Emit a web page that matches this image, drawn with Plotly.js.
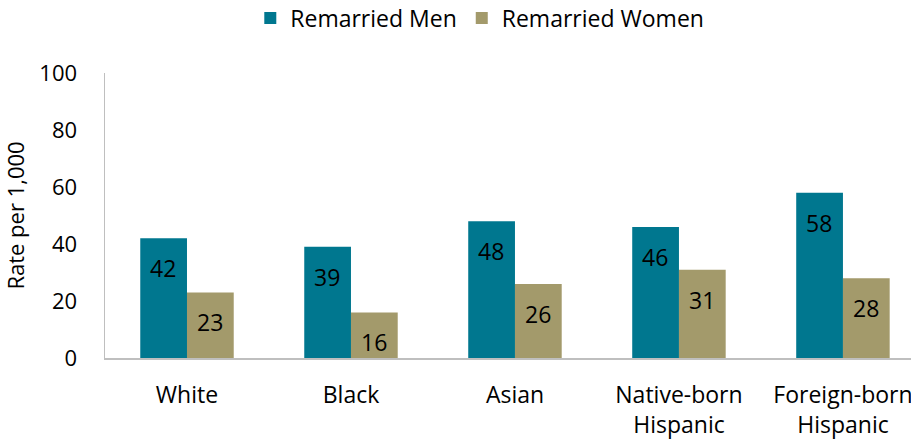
<!DOCTYPE html>
<html><head><meta charset="utf-8">
<script src="https://cdn.plot.ly/plotly-3.0.1.min.js"></script>
<style>html,body{margin:0;padding:0;background:#fff}#chart{width:911px;height:442px}</style>
</head><body><div id="chart"></div>
<script>
const categories = ["White", "Black", "Asian", "Native-born<br>Hispanic", "Foreign-born<br>Hispanic"];
const menValues = [42, 39, 48, 46, 58];
const womenValues = [23, 16, 26, 31, 28];
const seriesNames = ["Remarried Men", "Remarried Women"];
const yTicks = [0, 20, 40, 60, 80, 100];

const FONT = "Open Sans, Liberation Sans, sans-serif";
const menColor = "#00778F";
const womenColor = "#A39A6B";

const traces = [
  {type: "bar", name: seriesNames[0], x: categories, y: menValues, marker: {color: menColor}, hoverinfo: "none"},
  {type: "bar", name: seriesNames[1], x: categories, y: womenValues, marker: {color: womenColor}, hoverinfo: "none"}
];

const annotations = [];
[menValues, womenValues].forEach((vals, si) => {
  vals.forEach((v, i) => {
    annotations.push({
      x: categories[i], y: v, xref: "x", yref: "y",
      text: String(v), showarrow: false,
      xshift: si === 0 ? -23.5 : 23.5, yshift: -30,
      font: {family: FONT, size: 23, color: "#000"}
    });
  });
});

const layout = {
  width: 911, height: 442,
  margin: {l: 105, r: 0, t: 73, b: 84, autoexpand: false},
  paper_bgcolor: "#fff", plot_bgcolor: "#fff",
  barmode: "group", bargap: 0.43, bargroupgap: 0,
  font: {family: FONT, color: "#000"},
  showlegend: true,
  legend: {orientation: "h", x: 0.465, xanchor: "center", y: 1.193, yanchor: "middle",
           font: {family: FONT, size: 23, color: "#000"}, itemwidth: 30, traceorder: "normal"},
  xaxis: {range: [-0.5, 4.415], showline: true, linecolor: "#BFBFBF", linewidth: 1.5,
          ticks: "", tickfont: {family: FONT, size: 23, color: "#000"}, ticklabelstandoff: 16,
          fixedrange: true, automargin: false},
  yaxis: {range: [0, 100], tickvals: yTicks, showgrid: false, zeroline: false,
          showline: true, linecolor: "#BFBFBF", linewidth: 1.5, ticks: "",
          tickfont: {family: FONT, size: 22, color: "#000"}, ticklabelstandoff: 22,
          title: {text: "Rate per 1,000", font: {family: FONT, size: 22, color: "#000"}, standoff: 9},
          fixedrange: true, automargin: false},
  annotations: annotations
};

Plotly.newPlot("chart", traces, layout, {displayModeBar: false, staticPlot: true});
</script></body></html>
